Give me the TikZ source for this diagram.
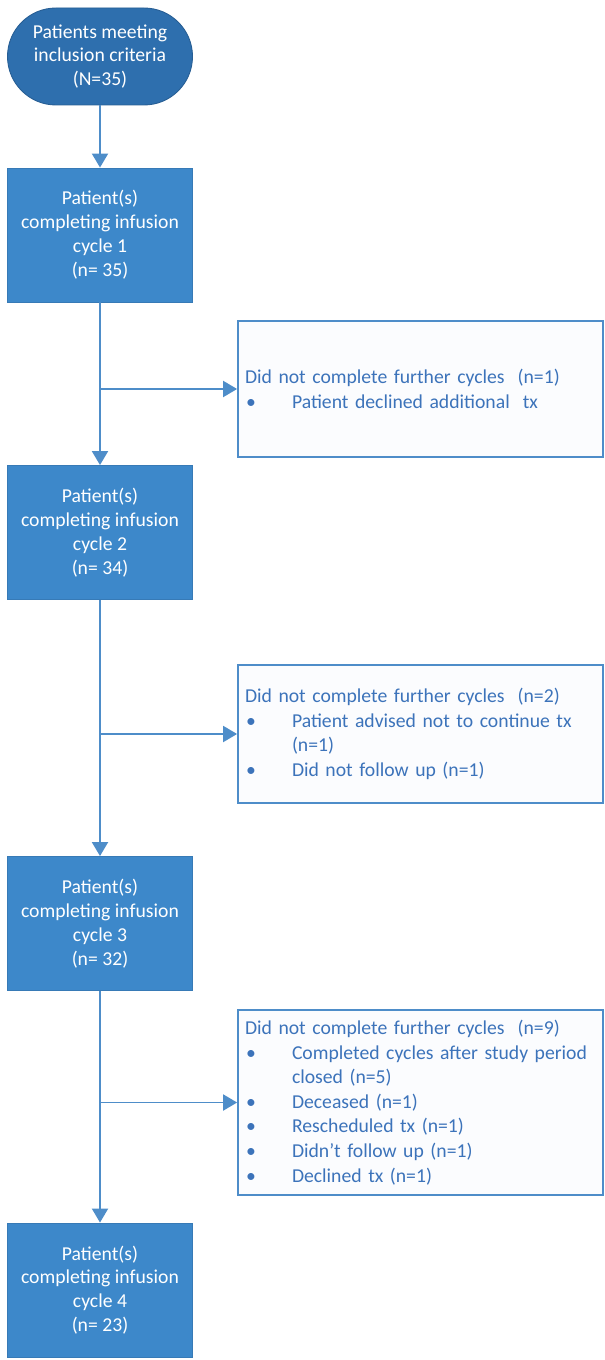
\documentclass[tikz,border=0pt]{standalone}
\usepackage{fontspec}
\setmainfont{Carlito}
\usetikzlibrary{arrows.meta}

\definecolor{startblue}{HTML}{2E6FAE}
\definecolor{boxblue}{HTML}{3D88CA}
\definecolor{edgeblue}{HTML}{4E8DC9}
\definecolor{textblue}{HTML}{3C73BA}
\definecolor{sidefill}{HTML}{FBFCFE}

\newcommand{\bitem}{\hspace*{0.02cm}\makebox[0.92cm][l]{\textbullet}}
\newcommand{\bcont}{\hspace*{0.94cm}}

\begin{document}
\begin{tikzpicture}

% Flow styles
\tikzset{
    cyclebox/.style={rectangle, fill=boxblue, draw=boxblue!90!black, line width=0.5pt,
        minimum width=3.7cm, minimum height=2.68cm, text=white, align=center,
        font=\fontsize{11.2}{13.6}\selectfont},
    startbox/.style={cyclebox, fill=startblue, draw=startblue!85!black,
        rounded corners=0.97cm, minimum height=1.94cm},
    exclbox/.style={rectangle, fill=sidefill, draw=edgeblue, line width=1pt,
        minimum width=7.3cm, text width=7.02cm, inner xsep=0.14cm, align=left,
        text=textblue, font=\fontsize{11.2}{14}\selectfont},
    flow/.style={draw=edgeblue, line width=1.1pt,
        -{Triangle[width=0.32cm,length=0.28cm]}}
}
\useasboundingbox (0,0) rectangle (12.1,-27.2);

\node[startbox] (Start) at (2.0,-1.13) {Patients meeting\\inclusion criteria\\(N=35)};
\node[cyclebox] (Cycle1) at (2.0,-4.7) {Patient(s)\\completing infusion\\cycle 1\\(n= 35)};
\node[cyclebox] (Cycle2) at (2.0,-10.65) {Patient(s)\\completing infusion\\cycle 2\\(n= 34)};
\node[cyclebox] (Cycle3) at (2.0,-18.47) {Patient(s)\\completing infusion\\cycle 3\\(n= 32)};
\node[cyclebox] (Cycle4) at (2.0,-25.8) {Patient(s)\\completing infusion\\cycle 4\\(n= 23)};

\node[exclbox, minimum height=2.72cm] (Excl1) at (8.41,-7.78)
    {Did not complete further cycles\ \ (n=1)\\
     \bitem Patient declined additional\ \ tx};
\node[exclbox, minimum height=2.76cm] (Excl2) at (8.41,-14.68)
    {Did not complete further cycles\ \ (n=2)\\
     \bitem Patient advised not to continue tx\\
     \bcont (n=1)\\
     \bitem Did not follow up (n=1)};
\node[exclbox, minimum height=3.7cm] (Excl3) at (8.41,-22.05)
    {Did not complete further cycles\ \ (n=9)\\
     \bitem Completed cycles after study period\\
     \bcont closed (n=5)\\
     \bitem Deceased (n=1)\\
     \bitem Rescheduled tx (n=1)\\
     \bitem Didn't follow up (n=1)\\
     \bitem Declined tx (n=1)};

% Main line
\draw[flow] (Start.south) -- (Cycle1.north);
\draw[flow] (Cycle1.south) -- (Cycle2.north);
\draw[flow] (Cycle2.south) -- (Cycle3.north);
\draw[flow] (Cycle3.south) -- (Cycle4.north);

% Exclusions
\coordinate (J1) at (Cycle1.south |- Excl1.west);
\coordinate (J2) at (Cycle2.south |- Excl2.west);
\coordinate (J3) at (Cycle3.south |- Excl3.west);
\draw[flow] (J1) -- (Excl1.west);
\draw[flow] (J2) -- (Excl2.west);
\draw[flow] (J3) -- (Excl3.west);

\end{tikzpicture}
\end{document}
